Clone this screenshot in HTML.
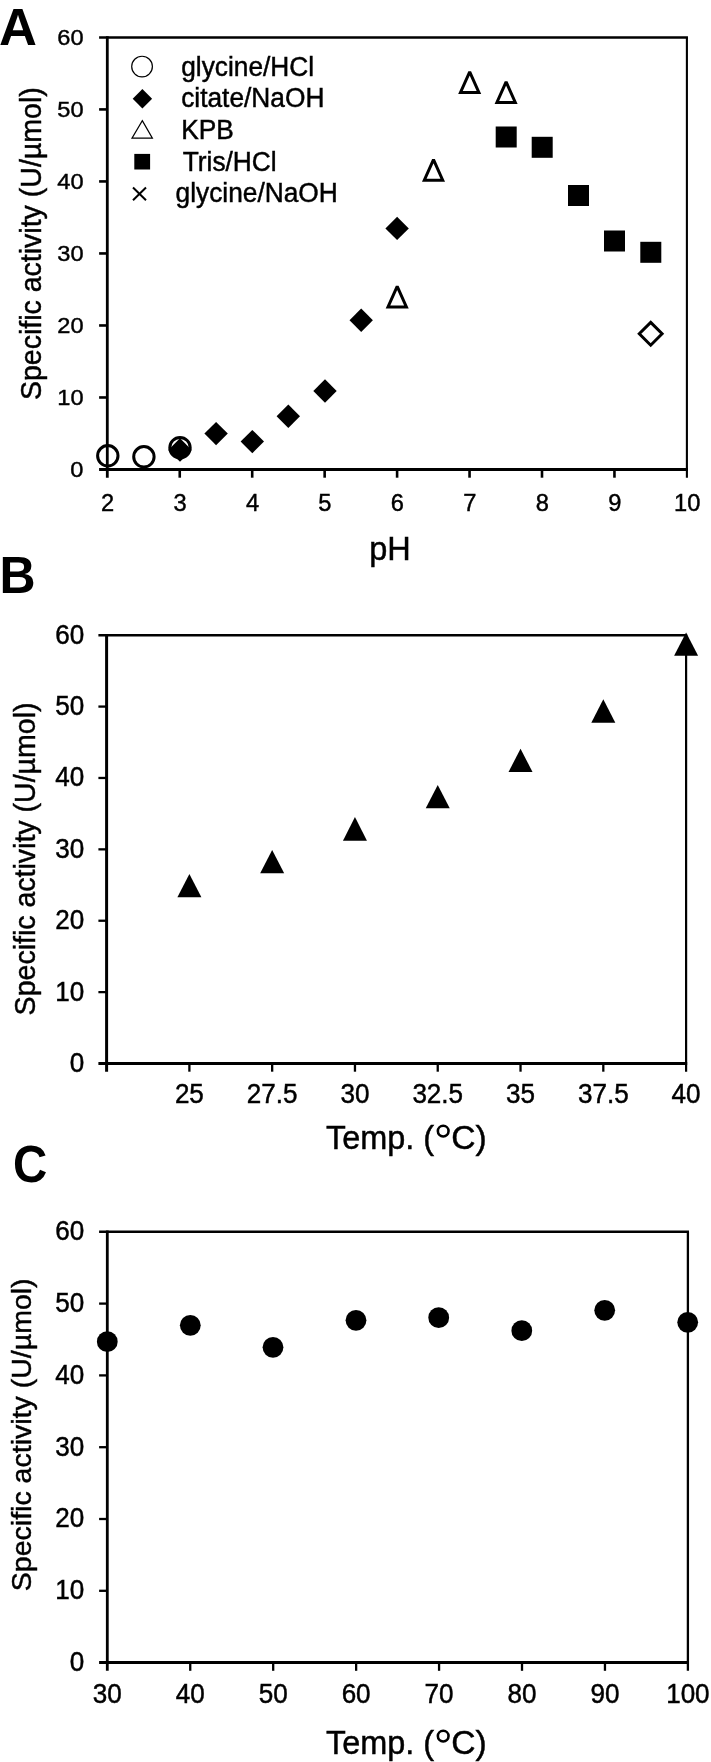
<!DOCTYPE html>
<html><head><meta charset="utf-8"><title>Figure</title>
<style>
html,body{margin:0;padding:0;background:#fff;}
svg{display:block;will-change:transform;}
text{font-family:"Liberation Sans",sans-serif;fill:#000;}
</style></head>
<body>
<svg width="711" height="1762" viewBox="0 0 711 1762">
<rect x="0" y="0" width="711" height="1762" fill="#fff"/>
<line x1="107.30" y1="36.15" x2="107.30" y2="477.70" stroke="#000" stroke-width="2.8"/>
<line x1="99.10" y1="469.50" x2="687.95" y2="469.50" stroke="#000" stroke-width="2.8"/>
<line x1="99.10" y1="37.40" x2="687.95" y2="37.40" stroke="#000" stroke-width="2.5"/>
<line x1="686.90" y1="37.40" x2="686.90" y2="477.70" stroke="#000" stroke-width="2.1"/>
<line x1="99.10" y1="397.48" x2="107.30" y2="397.48" stroke="#000" stroke-width="2.6"/>
<line x1="99.10" y1="325.47" x2="107.30" y2="325.47" stroke="#000" stroke-width="2.6"/>
<line x1="99.10" y1="253.45" x2="107.30" y2="253.45" stroke="#000" stroke-width="2.6"/>
<line x1="99.10" y1="181.43" x2="107.30" y2="181.43" stroke="#000" stroke-width="2.6"/>
<line x1="99.10" y1="109.42" x2="107.30" y2="109.42" stroke="#000" stroke-width="2.6"/>
<line x1="179.75" y1="469.50" x2="179.75" y2="477.70" stroke="#000" stroke-width="2.6"/>
<line x1="252.20" y1="469.50" x2="252.20" y2="477.70" stroke="#000" stroke-width="2.6"/>
<line x1="324.65" y1="469.50" x2="324.65" y2="477.70" stroke="#000" stroke-width="2.6"/>
<line x1="397.10" y1="469.50" x2="397.10" y2="477.70" stroke="#000" stroke-width="2.6"/>
<line x1="469.55" y1="469.50" x2="469.55" y2="477.70" stroke="#000" stroke-width="2.6"/>
<line x1="542.00" y1="469.50" x2="542.00" y2="477.70" stroke="#000" stroke-width="2.6"/>
<line x1="614.45" y1="469.50" x2="614.45" y2="477.70" stroke="#000" stroke-width="2.6"/>
<text transform="translate(70.37,476.73) scale(1.0500,1.0000)" font-size="22.5" stroke="#000" stroke-width="0.429">0</text>
<text transform="translate(57.26,404.72) scale(1.0500,1.0000)" font-size="22.5" stroke="#000" stroke-width="0.429">10</text>
<text transform="translate(57.26,332.70) scale(1.0500,1.0000)" font-size="22.5" stroke="#000" stroke-width="0.429">20</text>
<text transform="translate(57.26,260.68) scale(1.0500,1.0000)" font-size="22.5" stroke="#000" stroke-width="0.429">30</text>
<text transform="translate(57.26,188.67) scale(1.0500,1.0000)" font-size="22.5" stroke="#000" stroke-width="0.429">40</text>
<text transform="translate(57.26,116.65) scale(1.0500,1.0000)" font-size="22.5" stroke="#000" stroke-width="0.429">50</text>
<text transform="translate(57.26,44.63) scale(1.0500,1.0000)" font-size="22.5" stroke="#000" stroke-width="0.429">60</text>
<text transform="translate(101.01,511.40) scale(1.0300,1.0000)" font-size="23.0" stroke="#000" stroke-width="0.437">2</text>
<text transform="translate(173.46,511.40) scale(1.0300,1.0000)" font-size="23.0" stroke="#000" stroke-width="0.437">3</text>
<text transform="translate(245.91,511.40) scale(1.0300,1.0000)" font-size="23.0" stroke="#000" stroke-width="0.437">4</text>
<text transform="translate(318.36,511.40) scale(1.0300,1.0000)" font-size="23.0" stroke="#000" stroke-width="0.437">5</text>
<text transform="translate(390.81,511.40) scale(1.0300,1.0000)" font-size="23.0" stroke="#000" stroke-width="0.437">6</text>
<text transform="translate(463.26,511.40) scale(1.0300,1.0000)" font-size="23.0" stroke="#000" stroke-width="0.437">7</text>
<text transform="translate(535.71,511.40) scale(1.0300,1.0000)" font-size="23.0" stroke="#000" stroke-width="0.437">8</text>
<text transform="translate(608.16,511.40) scale(1.0300,1.0000)" font-size="23.0" stroke="#000" stroke-width="0.437">9</text>
<text transform="translate(674.02,511.40) scale(1.0300,1.0000)" font-size="23.0" stroke="#000" stroke-width="0.437">10</text>
<text transform="translate(369.19,560.45) scale(0.3248,0.3251)" font-size="100" stroke="#000" stroke-width="1.386">pH</text>
<text transform="translate(-1.01,45.00) scale(0.5254,0.5251)" font-size="100" font-weight="bold">A</text>
<text transform="translate(40.94,400.08) rotate(-90) scale(0.9929,1)" font-size="28.74" stroke="#000" stroke-width="0.45">Specific activity (U/µmol)</text>
<circle cx="142.05" cy="66.60" r="10.35" fill="none" stroke="#000" stroke-width="1.2"/>
<path d="M142.40,89.00L152.10,98.70L142.40,108.40L132.70,98.70Z" fill="#000"/>
<path d="M142.3,120.6L152.4,138.1L132.0,138.1Z" fill="none" stroke="#000" stroke-width="1.2"/>
<rect x="134.3" y="153.9" width="15.8" height="15.6" fill="#000"/>
<path d="M133.0,187.5L146.0,200.3M146.0,187.5L133.0,200.3" stroke="#000" stroke-width="2" fill="none"/>
<text transform="translate(181.18,75.80) scale(0.9850,1.0000)" font-size="26.7" stroke="#000" stroke-width="0.457">glycine/HCl</text>
<text transform="translate(181.18,107.00) scale(0.9850,1.0000)" font-size="26.7" stroke="#000" stroke-width="0.457">citate/NaOH</text>
<text transform="translate(181.13,139.20) scale(0.9850,1.0000)" font-size="26.7" stroke="#000" stroke-width="0.457">KPB</text>
<text transform="translate(182.71,170.50) scale(0.9850,1.0000)" font-size="26.7" stroke="#000" stroke-width="0.457">Tris/HCl</text>
<text transform="translate(175.58,201.50) scale(0.9850,1.0000)" font-size="26.7" stroke="#000" stroke-width="0.457">glycine/NaOH</text>
<circle cx="107.80" cy="455.80" r="10.2" fill="none" stroke="#000" stroke-width="3"/>
<circle cx="143.90" cy="456.80" r="10.2" fill="none" stroke="#000" stroke-width="3"/>
<circle cx="180.00" cy="447.70" r="10.2" fill="none" stroke="#000" stroke-width="3"/>
<path d="M180.00,438.30L191.70,450.00L180.00,461.70L168.30,450.00Z" fill="#000"/>
<path d="M216.10,421.90L227.80,433.60L216.10,445.30L204.40,433.60Z" fill="#000"/>
<path d="M252.30,429.90L264.00,441.60L252.30,453.30L240.60,441.60Z" fill="#000"/>
<path d="M288.30,404.60L300.00,416.30L288.30,428.00L276.60,416.30Z" fill="#000"/>
<path d="M325.00,379.30L336.70,391.00L325.00,402.70L313.30,391.00Z" fill="#000"/>
<path d="M361.20,308.50L372.90,320.20L361.20,331.90L349.50,320.20Z" fill="#000"/>
<path d="M397.10,216.70L408.80,228.40L397.10,240.10L385.40,228.40Z" fill="#000"/>
<path d="M397.20,286.30L406.40,306.90L388.00,306.90Z" fill="none" stroke="#000" stroke-width="3" stroke-linejoin="miter" stroke-miterlimit="2.0"/>
<path d="M433.50,159.60L442.70,180.20L424.30,180.20Z" fill="none" stroke="#000" stroke-width="3" stroke-linejoin="miter" stroke-miterlimit="2.0"/>
<path d="M469.70,71.80L478.90,92.40L460.50,92.40Z" fill="none" stroke="#000" stroke-width="3" stroke-linejoin="miter" stroke-miterlimit="2.0"/>
<path d="M506.10,81.80L515.30,102.40L496.90,102.40Z" fill="none" stroke="#000" stroke-width="3" stroke-linejoin="miter" stroke-miterlimit="2.0"/>
<rect x="495.70" y="126.50" width="21" height="21" fill="#000"/>
<rect x="531.70" y="136.80" width="21" height="21" fill="#000"/>
<rect x="568.00" y="185.00" width="21" height="21" fill="#000"/>
<rect x="604.00" y="230.50" width="21" height="21" fill="#000"/>
<rect x="640.30" y="241.80" width="21" height="21" fill="#000"/>
<path d="M650.70,322.40L662.10,333.80L650.70,345.20L639.30,333.80Z" fill="none" stroke="#000" stroke-width="3" stroke-linejoin="miter"/>
<line x1="106.60" y1="633.95" x2="106.60" y2="1071.70" stroke="#000" stroke-width="3.0"/>
<line x1="98.40" y1="1063.50" x2="687.20" y2="1063.50" stroke="#000" stroke-width="3.0"/>
<line x1="98.40" y1="635.20" x2="687.20" y2="635.20" stroke="#000" stroke-width="2.5"/>
<line x1="686.10" y1="635.20" x2="686.10" y2="1071.70" stroke="#000" stroke-width="2.2"/>
<line x1="98.40" y1="992.12" x2="106.60" y2="992.12" stroke="#000" stroke-width="2.3"/>
<line x1="98.40" y1="920.73" x2="106.60" y2="920.73" stroke="#000" stroke-width="2.3"/>
<line x1="98.40" y1="849.35" x2="106.60" y2="849.35" stroke="#000" stroke-width="2.3"/>
<line x1="98.40" y1="777.97" x2="106.60" y2="777.97" stroke="#000" stroke-width="2.3"/>
<line x1="98.40" y1="706.58" x2="106.60" y2="706.58" stroke="#000" stroke-width="2.3"/>
<line x1="189.39" y1="1063.50" x2="189.39" y2="1071.70" stroke="#000" stroke-width="2.3"/>
<line x1="272.17" y1="1063.50" x2="272.17" y2="1071.70" stroke="#000" stroke-width="2.3"/>
<line x1="354.96" y1="1063.50" x2="354.96" y2="1071.70" stroke="#000" stroke-width="2.3"/>
<line x1="437.74" y1="1063.50" x2="437.74" y2="1071.70" stroke="#000" stroke-width="2.3"/>
<line x1="520.53" y1="1063.50" x2="520.53" y2="1071.70" stroke="#000" stroke-width="2.3"/>
<line x1="603.31" y1="1063.50" x2="603.31" y2="1071.70" stroke="#000" stroke-width="2.3"/>
<text transform="translate(69.72,1071.88) scale(0.9650,1.0000)" font-size="27.0" stroke="#000" stroke-width="0.466">0</text>
<text transform="translate(55.26,1000.50) scale(0.9650,1.0000)" font-size="27.0" stroke="#000" stroke-width="0.466">10</text>
<text transform="translate(55.26,929.11) scale(0.9650,1.0000)" font-size="27.0" stroke="#000" stroke-width="0.466">20</text>
<text transform="translate(55.26,857.73) scale(0.9650,1.0000)" font-size="27.0" stroke="#000" stroke-width="0.466">30</text>
<text transform="translate(55.26,786.35) scale(0.9650,1.0000)" font-size="27.0" stroke="#000" stroke-width="0.466">40</text>
<text transform="translate(55.26,714.96) scale(0.9650,1.0000)" font-size="27.0" stroke="#000" stroke-width="0.466">50</text>
<text transform="translate(55.26,643.58) scale(0.9650,1.0000)" font-size="27.0" stroke="#000" stroke-width="0.466">60</text>
<text transform="translate(174.89,1103.00) scale(0.9650,1.0000)" font-size="27.0" stroke="#000" stroke-width="0.466">25</text>
<text transform="translate(246.82,1103.00) scale(0.9650,1.0000)" font-size="27.0" stroke="#000" stroke-width="0.466">27.5</text>
<text transform="translate(340.47,1103.00) scale(0.9650,1.0000)" font-size="27.0" stroke="#000" stroke-width="0.466">30</text>
<text transform="translate(412.39,1103.00) scale(0.9650,1.0000)" font-size="27.0" stroke="#000" stroke-width="0.466">32.5</text>
<text transform="translate(506.04,1103.00) scale(0.9650,1.0000)" font-size="27.0" stroke="#000" stroke-width="0.466">35</text>
<text transform="translate(577.96,1103.00) scale(0.9650,1.0000)" font-size="27.0" stroke="#000" stroke-width="0.466">37.5</text>
<text transform="translate(671.61,1103.00) scale(0.9650,1.0000)" font-size="27.0" stroke="#000" stroke-width="0.466">40</text>
<text transform="translate(325.95,1149.00) scale(0.9990,1.0000)" font-size="32.5" stroke="#000" stroke-width="0.450">Temp. (</text>
<circle cx="443.20" cy="1131.10" r="5.35" fill="none" stroke="#000" stroke-width="2.6"/>
<text transform="translate(451.32,1149.00) scale(1.0350,1.0000)" font-size="32.5" stroke="#000" stroke-width="0.435">C)</text>
<text transform="translate(-0.57,593.10) scale(0.5000,0.5265)" font-size="100" font-weight="bold">B</text>
<text transform="translate(34.80,1015.38) rotate(-90) scale(0.9712,1)" font-size="29.38" stroke="#000" stroke-width="0.45">Specific activity (U/µmol)</text>
<path d="M189.39,874.00L201.39,897.30L177.39,897.30Z" fill="#000"/>
<path d="M272.17,850.00L284.17,873.30L260.17,873.30Z" fill="#000"/>
<path d="M354.96,817.00L366.96,840.70L342.96,840.70Z" fill="#000"/>
<path d="M437.74,785.00L449.74,808.30L425.74,808.30Z" fill="#000"/>
<path d="M520.53,748.70L532.53,772.00L508.53,772.00Z" fill="#000"/>
<path d="M603.31,699.30L615.31,722.70L591.31,722.70Z" fill="#000"/>
<path d="M686.10,632.60L698.10,655.80L674.10,655.80Z" fill="#000"/>
<line x1="107.30" y1="1230.55" x2="107.30" y2="1670.80" stroke="#000" stroke-width="2.8"/>
<line x1="99.10" y1="1662.60" x2="689.00" y2="1662.60" stroke="#000" stroke-width="3.0"/>
<line x1="99.10" y1="1231.80" x2="689.00" y2="1231.80" stroke="#000" stroke-width="2.5"/>
<line x1="687.90" y1="1231.80" x2="687.90" y2="1670.80" stroke="#000" stroke-width="2.3"/>
<line x1="99.10" y1="1590.80" x2="107.30" y2="1590.80" stroke="#000" stroke-width="2.3"/>
<line x1="99.10" y1="1519.00" x2="107.30" y2="1519.00" stroke="#000" stroke-width="2.3"/>
<line x1="99.10" y1="1447.20" x2="107.30" y2="1447.20" stroke="#000" stroke-width="2.3"/>
<line x1="99.10" y1="1375.40" x2="107.30" y2="1375.40" stroke="#000" stroke-width="2.3"/>
<line x1="99.10" y1="1303.60" x2="107.30" y2="1303.60" stroke="#000" stroke-width="2.3"/>
<line x1="190.24" y1="1662.60" x2="190.24" y2="1670.80" stroke="#000" stroke-width="2.3"/>
<line x1="273.19" y1="1662.60" x2="273.19" y2="1670.80" stroke="#000" stroke-width="2.3"/>
<line x1="356.13" y1="1662.60" x2="356.13" y2="1670.80" stroke="#000" stroke-width="2.3"/>
<line x1="439.07" y1="1662.60" x2="439.07" y2="1670.80" stroke="#000" stroke-width="2.3"/>
<line x1="522.01" y1="1662.60" x2="522.01" y2="1670.80" stroke="#000" stroke-width="2.3"/>
<line x1="604.96" y1="1662.60" x2="604.96" y2="1670.80" stroke="#000" stroke-width="2.3"/>
<text transform="translate(69.82,1670.98) scale(0.9650,1.0000)" font-size="27.0" stroke="#000" stroke-width="0.466">0</text>
<text transform="translate(55.36,1599.18) scale(0.9650,1.0000)" font-size="27.0" stroke="#000" stroke-width="0.466">10</text>
<text transform="translate(55.36,1527.38) scale(0.9650,1.0000)" font-size="27.0" stroke="#000" stroke-width="0.466">20</text>
<text transform="translate(55.36,1455.58) scale(0.9650,1.0000)" font-size="27.0" stroke="#000" stroke-width="0.466">30</text>
<text transform="translate(55.36,1383.78) scale(0.9650,1.0000)" font-size="27.0" stroke="#000" stroke-width="0.466">40</text>
<text transform="translate(55.36,1311.98) scale(0.9650,1.0000)" font-size="27.0" stroke="#000" stroke-width="0.466">50</text>
<text transform="translate(55.36,1240.18) scale(0.9650,1.0000)" font-size="27.0" stroke="#000" stroke-width="0.466">60</text>
<text transform="translate(92.81,1702.50) scale(0.9650,1.0000)" font-size="27.0" stroke="#000" stroke-width="0.466">30</text>
<text transform="translate(175.75,1702.50) scale(0.9650,1.0000)" font-size="27.0" stroke="#000" stroke-width="0.466">40</text>
<text transform="translate(258.69,1702.50) scale(0.9650,1.0000)" font-size="27.0" stroke="#000" stroke-width="0.466">50</text>
<text transform="translate(341.64,1702.50) scale(0.9650,1.0000)" font-size="27.0" stroke="#000" stroke-width="0.466">60</text>
<text transform="translate(424.58,1702.50) scale(0.9650,1.0000)" font-size="27.0" stroke="#000" stroke-width="0.466">70</text>
<text transform="translate(507.52,1702.50) scale(0.9650,1.0000)" font-size="27.0" stroke="#000" stroke-width="0.466">80</text>
<text transform="translate(590.47,1702.50) scale(0.9650,1.0000)" font-size="27.0" stroke="#000" stroke-width="0.466">90</text>
<text transform="translate(666.16,1702.50) scale(0.9650,1.0000)" font-size="27.0" stroke="#000" stroke-width="0.466">100</text>
<text transform="translate(325.95,1754.00) scale(0.9990,1.0000)" font-size="32.5" stroke="#000" stroke-width="0.450">Temp. (</text>
<circle cx="443.20" cy="1736.10" r="5.35" fill="none" stroke="#000" stroke-width="2.6"/>
<text transform="translate(451.32,1754.00) scale(1.0350,1.0000)" font-size="32.5" stroke="#000" stroke-width="0.435">C)</text>
<text transform="translate(13.10,1182.28) scale(0.4748,0.5216)" font-size="100" font-weight="bold">C</text>
<text transform="translate(30.98,1591.18) rotate(-90) scale(1.0004,1)" font-size="28.53" stroke="#000" stroke-width="0.45">Specific activity (U/µmol)</text>
<circle cx="107.30" cy="1341.70" r="10.4" fill="#000"/>
<circle cx="190.30" cy="1325.30" r="10.4" fill="#000"/>
<circle cx="273.00" cy="1347.30" r="10.4" fill="#000"/>
<circle cx="356.00" cy="1320.30" r="10.4" fill="#000"/>
<circle cx="438.70" cy="1317.70" r="10.4" fill="#000"/>
<circle cx="521.80" cy="1330.70" r="10.4" fill="#000"/>
<circle cx="604.70" cy="1310.30" r="10.4" fill="#000"/>
<circle cx="687.70" cy="1322.30" r="10.4" fill="#000"/>
</svg>
</body></html>
